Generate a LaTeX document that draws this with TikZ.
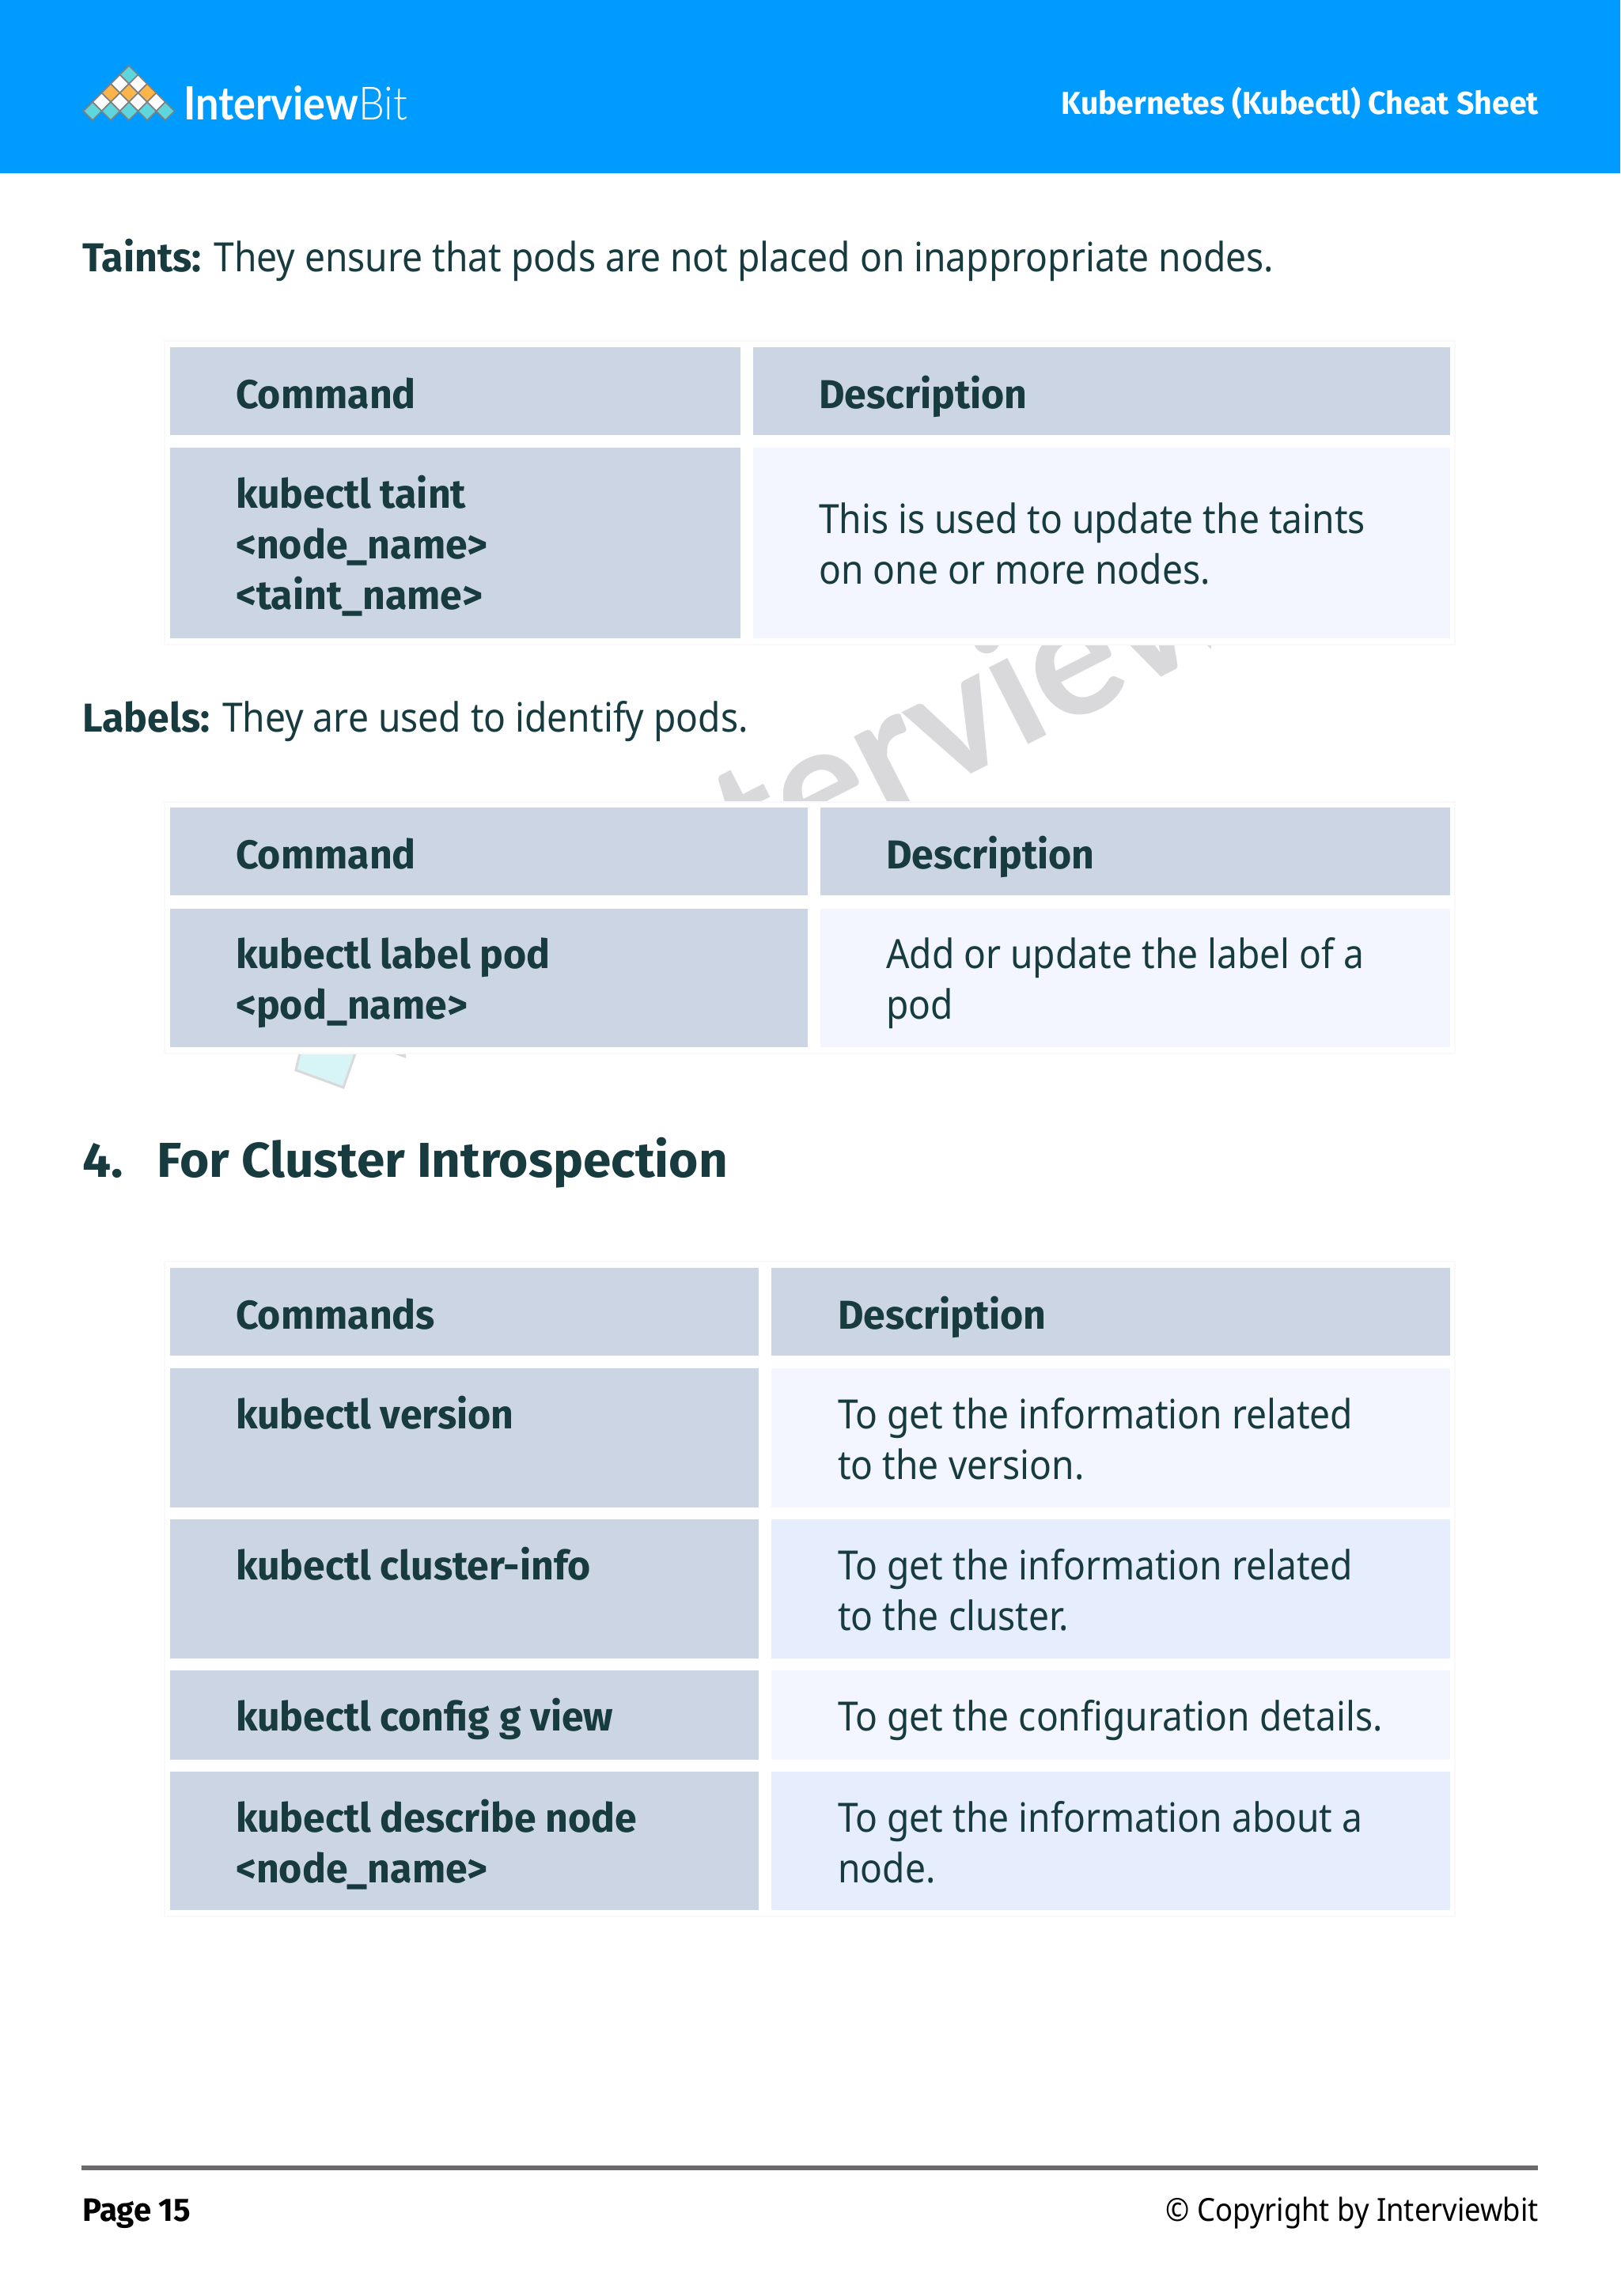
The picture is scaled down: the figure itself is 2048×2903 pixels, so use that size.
\documentclass[tikz,border=0pt]{standalone}
\usepackage{fontspec}
\setmainfont[FakeStretch=0.905, BoldFont={Fira Sans Bold}, BoldFeatures={FakeStretch=0.98}]{Noto Sans}
\newfontfamily\logofont[FakeStretch=0.9]{Lato}
\newfontfamily\logolight[FakeStretch=0.9]{Lato Light}
\newfontfamily\markfont{Lato}
\newfontfamily\titlefont[FakeStretch=1.03]{Fira Sans Bold}
\usetikzlibrary{arrows.meta}

\definecolor{bandblue}{HTML}{009BFF}
\definecolor{inktext}{HTML}{173B3F}
\definecolor{headcell}{HTML}{CCD5E3}
\definecolor{palecell}{HTML}{F3F6FE}
\definecolor{bluecell}{HTML}{E6EDFC}
\definecolor{framegray}{HTML}{FAF9FA}
\definecolor{markgray}{HTML}{D9D8DB}
\definecolor{logoteal}{HTML}{5FD6DC}
\definecolor{logoorange}{HTML}{FDB44B}
\definecolor{footrule}{HTML}{6D6A6E}

\tikzset{
  txt/.style={anchor=base west, inner sep=0pt, yshift=-1pt, text=inktext, font=\fontsize{51}{64}\selectfont},
  cmd/.style={txt, font=\fontsize{51}{64}\selectfont\bfseries},
  frame/.style={fill=white, draw=framegray, line width=1.5pt},
}

\begin{document}
\begin{tikzpicture}[x=1pt, y=-1pt]
  \useasboundingbox (0,0) rectangle (2048,2903);
  \fill[white] (0,0) rectangle (2048,2903);

  % watermark pieces
  \begin{scope}
    \clip (900,814) rectangle (1530,1013);
    \node[anchor=base, inner sep=0pt, rotate=27, text=markgray] (markword) at (1187,999)
      {\markfont\bfseries\fontsize{212}{212}\selectfont Interview};
  \end{scope}
  \filldraw[fill=logoteal!25, draw=markgray, line width=3pt] (379,1332) -- (374,1353) -- (434,1375) -- (449,1332);
  \fill[markgray] (497,1332) -- (513,1332) -- (513,1338) -- cycle;

  % header band
  \fill[bandblue] (0,0) rectangle (2048,219);
  \foreach \r/\c in {0/logoteal,1/white,2/logoorange,3/white,4/logoteal} {
    \foreach \i in {0,...,\r} {
      \filldraw[fill=\c, draw=gray, line width=1.5pt, shift={(163+\i*23-\r*11.5,94.5+\r*11.5)}]
        (0,-11.5) -- (11.5,0) -- (0,11.5) -- (-11.5,0) -- cycle;
    }
  }
  \node[anchor=base west, inner sep=0pt, text=white] (logoword) at (232,152)
    {\logofont\fontsize{58}{58}\selectfont\textbf{Interview}\logolight Bit};
  \node[anchor=base east, inner sep=0pt, text=white] (sheetname) at (1945,145)
    {\fontsize{40}{40}\selectfont\bfseries Kubernetes (Kubectl) Cheat Sheet};

  % taints
  \node[txt] (taintsline) at (104,342) {\textbf{Taints:} They ensure that pods are not placed on inappropriate nodes.};
  \filldraw[frame] (208,431) rectangle (1839,815);
  \fill[headcell] (215,439) rectangle (936,550);
  \fill[headcell] (952,439) rectangle (1833,550);
  \fill[headcell] (215,566) rectangle (936,807);
  \fill[palecell] (952,566) rectangle (1833,807);
  \node[cmd] (taintcmdhead) at (298,515) {Command};
  \node[cmd] (taintdeschead) at (1035,515) {Description};
  \node[cmd] (taintcmda) at (298,641) {kubectl taint};
  \node[cmd] (taintcmdb) at (298,705) {<node\_name>};
  \node[cmd] (taintcmdc) at (298,769) {<taint\_name>};
  \node[txt] (taintdesca) at (1035,673) {This is used to update the taints};
  \node[txt] (taintdescb) at (1035,737) {on one or more nodes.};

  % labels
  \node[txt] (labelsline) at (104,924) {\textbf{Labels:} They are used to identify pods.};
  \filldraw[frame] (208,1014) rectangle (1839,1332);
  \fill[headcell] (215,1021) rectangle (1021,1132);
  \fill[headcell] (1037,1021) rectangle (1833,1132);
  \fill[headcell] (215,1149) rectangle (1021,1324);
  \fill[palecell] (1037,1149) rectangle (1833,1324);
  \node[cmd] (labelcmdhead) at (298,1097) {Command};
  \node[cmd] (labeldeschead) at (1120,1097) {Description};
  \node[cmd] (labelcmda) at (298,1223) {kubectl label pod};
  \node[cmd] (labelcmdb) at (298,1287) {<pod\_name>};
  \node[txt] (labeldesca) at (1120,1223) {Add or update the label of a};
  \node[txt] (labeldescb) at (1120,1287) {pod};

  % section title
  \node[txt, font=\fontsize{62}{62}\selectfont\titlefont] (secnum) at (104,1487) {4.};
  \node[txt, font=\fontsize{62}{62}\selectfont\titlefont] (sectitle) at (198,1487) {For Cluster Introspection};

  % introspection
  \filldraw[frame] (208,1595) rectangle (1839,2423);
  \fill[headcell] (215,1603) rectangle (959,1714);
  \fill[headcell] (975,1603) rectangle (1833,1714);
  \node[cmd] (introcmdhead) at (298,1679) {Commands};
  \node[cmd] (introdeschead) at (1059,1679) {Description};
  \fill[headcell] (215,1730) rectangle (959,1906);
  \fill[palecell] (975,1730) rectangle (1833,1906);
  \node[cmd] (versioncmd) at (298,1805) {kubectl version};
  \node[txt] (versiondesca) at (1059,1805) {To get the information related};
  \node[txt] (versiondescb) at (1059,1869) {to the version.};
  \fill[headcell] (215,1921) rectangle (959,2097);
  \fill[bluecell] (975,1921) rectangle (1833,2097);
  \node[cmd] (clustercmd) at (298,1996) {kubectl cluster-info};
  \node[txt] (clusterdesca) at (1059,1996) {To get the information related};
  \node[txt] (clusterdescb) at (1059,2060) {to the cluster.};
  \fill[headcell] (215,2112) rectangle (959,2225);
  \fill[palecell] (975,2112) rectangle (1833,2225);
  \node[cmd] (configcmd) at (298,2187) {kubectl config g view};
  \node[txt] (configdesc) at (1059,2187) {To get the configuration details.};
  \fill[headcell] (215,2240) rectangle (959,2415);
  \fill[bluecell] (975,2240) rectangle (1833,2415);
  \node[cmd] (describecmda) at (298,2315) {kubectl describe node};
  \node[cmd] (describecmdb) at (298,2379) {<node\_name>};
  \node[txt] (describedesca) at (1059,2315) {To get the information about a};
  \node[txt] (describedescb) at (1059,2379) {node.};

  % footer
  \fill[footrule] (103,2738) rectangle (1944,2744);
  \node[anchor=base west, inner sep=0pt, text=black] (pagenum) at (104,2808)
    {\fontsize{41}{41}\selectfont\bfseries Page 15};
  \node[anchor=base east, inner sep=0pt, text=black] (copyline) at (1945,2808)
    {\fontsize{40.2}{40}\selectfont © Copyright by Interviewbit};
\end{tikzpicture}
\end{document}
